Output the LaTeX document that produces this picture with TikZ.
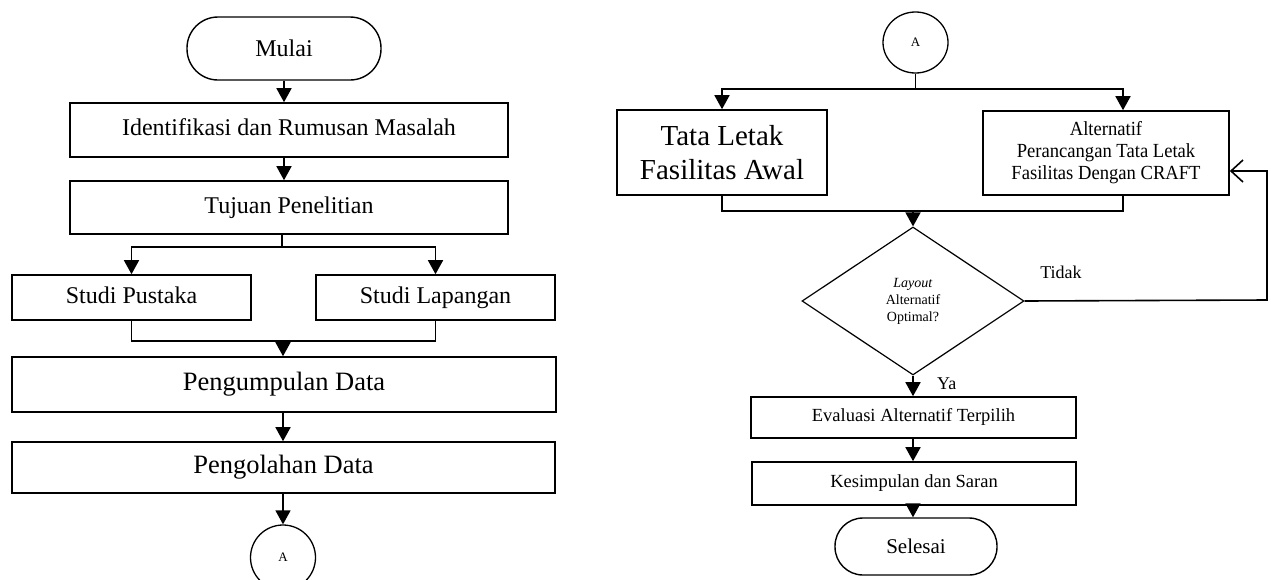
\documentclass[tikz,border=0pt]{standalone}
\usepackage{fontspec}
\setmainfont{Liberation Serif}
\usetikzlibrary{arrows.meta,positioning,shapes.geometric}

\begin{document}
\begin{tikzpicture}[
  x=1pt,y=-1pt,
  >={Triangle[length=14pt,width=15pt]},
  proc/.style={draw,line width=1.6pt,inner sep=2pt,align=center},
  term/.style={draw,line width=1.4pt,rounded corners=31pt,minimum width=194pt,minimum height=63pt,font=\fontsize{24}{28}\selectfont},
  conn/.style={draw,ellipse,line width=1.3pt,inner sep=0pt,font=\fontsize{13}{15}\selectfont},
  decide/.style={draw,diamond,line width=1.2pt,inner sep=0pt,minimum width=222pt,minimum height=148pt,align=center,font=\fontsize{14}{17}\selectfont},
  big/.style={font=\fontsize{24}{28}\selectfont,text height=16.5pt,text depth=5pt},
  huge/.style={font=\fontsize{26.5}{31}\selectfont,text height=18pt,text depth=5.5pt},
  small/.style={font=\fontsize{18.5}{22}\selectfont,text height=12.5pt,text depth=4pt},
  flow/.style={->,line width=1.6pt},
  wire/.style={line width=1.6pt},
  back/.style={-{Straight Barb[length=12pt,width=22pt]},line width=1.6pt}
]
\useasboundingbox (0,0) rectangle (1271,579);

% left column: from start to connector A
\node[term] (mulai) at (284,48.5) {Mulai};
\node[proc,big,minimum width=438pt,minimum height=54pt] (ident) at (289,130) {Identifikasi dan Rumusan Masalah};
\node[proc,big,minimum width=438pt,minimum height=53pt] (tujuan) at (289,207.5) {Tujuan Penelitian};
\node[proc,big,minimum width=239pt,minimum height=45pt] (pustaka) at (131.5,297.5) {Studi Pustaka};
\node[proc,big,minimum width=239pt,minimum height=45pt] (lapangan) at (435.5,297.5) {Studi Lapangan};
\node[proc,huge,minimum width=544pt,minimum height=55pt] (kumpul) at (284,384.5) {Pengumpulan Data};
\node[proc,huge,minimum width=543pt,minimum height=51pt] (olah) at (283.5,467.5) {Pengolahan Data};
\node[conn,minimum size=65pt] (pA) at (283,557.5) {A};
\coordinate (fork1) at (282,247);
\coordinate (join1) at (283,341);

\draw[flow] (mulai.south) -- (mulai.south |- ident.north);
\draw[flow] (ident.south -| mulai.south) -- (tujuan.north -| mulai.south);
\draw[wire] (tujuan.south -| fork1) -- (fork1);
\draw[flow] (fork1) -| (pustaka.north);
\draw[flow] (fork1) -| (lapangan.north);
\draw[wire] (pustaka.south) |- (join1);
\draw[wire] (lapangan.south) |- (join1);
\draw[flow] (join1) -- (kumpul.north -| join1);
\draw[flow] (kumpul.south -| join1) -- (olah.north -| join1);
\draw[flow] (olah.south -| join1) -- (pA);

% right column: from connector A to finish
\node[conn,minimum width=65pt,minimum height=61pt] (pB) at (915.5,42.5) {A};
\node[proc,font=\fontsize{29}{34}\selectfont,minimum width=210pt,minimum height=85pt] (awal) at (722,152.5) {Tata Letak\\Fasilitas Awal};
\node[proc,font=\fontsize{20}{22}\selectfont\addfontfeature{FakeStretch=0.93},minimum width=246pt,minimum height=84pt] (alt) at (1106,153) {Alternatif\\Perancangan Tata Letak\\Fasilitas Dengan CRAFT};
\node[decide] (cek) at (913,301) {\textit{Layout}\\Alternatif\\Optimal?};
\node[proc,small,minimum width=325pt,minimum height=41pt] (eval) at (913.5,417.5) {Evaluasi Alternatif Terpilih};
\node[proc,small,minimum width=324pt,minimum height=43pt] (simpul) at (914,483.5) {Kesimpulan dan Saran};
\node[term,font=\fontsize{21}{25}\selectfont,minimum width=162pt,minimum height=57pt,rounded corners=28pt] (selesai) at (916,546.5) {Selesai};
\coordinate (fork2) at (915.5,89);
\coordinate (join2) at (913,211);
\coordinate (loop) at (1267,300);

\draw[wire] (pB) -- (fork2);
\draw[flow] (fork2) -| (awal.north);
\draw[flow] (fork2) -| ([xshift=17pt]alt.north);
\draw[wire] (awal.south) |- (join2);
\draw[wire] ([xshift=17pt]alt.south) |- (join2);
\draw[flow] (join2) -- (cek.north);
\draw[flow] (cek.south) -- node[pos=0.4,right=20pt,font=\fontsize{18}{21}\selectfont] {Ya} (eval.north -| cek.south);
\draw[flow] (eval.south -| cek.south) -- (simpul.north -| cek.south);
\draw[flow] (simpul.south -| cek.south) -- (selesai.north -| cek.south);
\draw[back] (cek.east) -- node[pos=0.15,above=18pt,font=\fontsize{18}{21}\selectfont] {Tidak} (loop) |- ([yshift=-18pt]alt.east);
\end{tikzpicture}
\end{document}
